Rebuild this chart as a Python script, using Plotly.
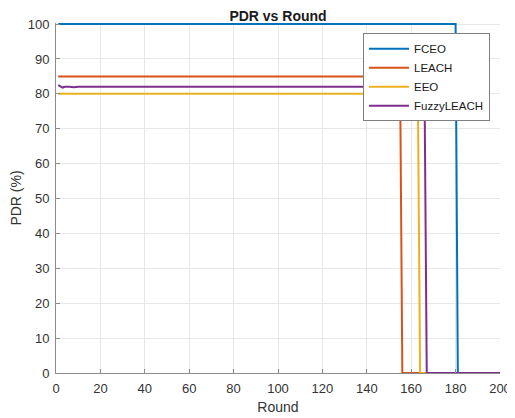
import plotly.graph_objects as go

# PDR readings per round (break points)
fceo_round = [1, 180, 181, 200]
fceo_pdr = [100, 100, 0, 0]

leach_round = [1, 155, 156, 200]
leach_pdr = [85, 85, 0, 0]

eeo_round = [1, 163, 164, 200]
eeo_pdr = [80, 80, 0, 0]

fuzzy_round = [1, 2, 3, 4, 5, 6, 8, 10, 166, 167, 200]
fuzzy_pdr = [82.5, 82.1, 81.8, 82.0, 81.9, 82.0, 81.9, 82.0, 82.0, 0, 0]

x_ticks = [0, 20, 40, 60, 80, 100, 120, 140, 160, 180, 200]
y_ticks = [0, 10, 20, 30, 40, 50, 60, 70, 80, 90, 100]

fig = go.Figure()

series = [
    ("FCEO", fceo_round, fceo_pdr, "#0072BD"),
    ("LEACH", leach_round, leach_pdr, "#D95319"),
    ("EEO", eeo_round, eeo_pdr, "#EDB120"),
    ("FuzzyLEACH", fuzzy_round, fuzzy_pdr, "#7E2F8E"),
]
for nome, x, y, cor in series:
    fig.add_trace(go.Scatter(
        x=x, y=y, name=nome, mode="lines",
        line=dict(color=cor, width=2),
    ))

eixo = dict(
    showline=True, linecolor="#8c8c8c", linewidth=1,
    showgrid=True, gridcolor="#e8e8e8", gridwidth=1,
    ticks="inside", ticklen=4, tickcolor="#8c8c8c",
    zeroline=False, mirror=False, automargin=False,
    ticklabelstandoff=3,
    tickfont=dict(family="Liberation Sans, Arial", size=13, color="#333333"),
)

# a pagina html tem 8px de margem no body, por isso o tamanho e 507x410
fig.update_layout(
    width=507, height=410,
    margin=dict(l=48, r=15, t=15, b=45),
    paper_bgcolor="white", plot_bgcolor="white",
    title=dict(text="<b>PDR vs Round</b>", xref="paper", x=0.5, xanchor="center",
               yref="container", y=1 - 8 / 410, yanchor="middle",
               font=dict(family="Liberation Sans, Arial", size=14, color="#1a1a1a")),
    xaxis=dict(eixo, range=[0, 200], tickvals=x_ticks,
               title=dict(text="Round", standoff=7,
                          font=dict(family="Liberation Sans, Arial", size=14, color="#333333"))),
    yaxis=dict(eixo, range=[0, 100.3], tickvals=y_ticks,
               title=dict(text="PDR (%)", standoff=2,
                          font=dict(family="Liberation Sans, Arial", size=14, color="#333333"))),
    legend=dict(x=0.6914, y=0.971, xanchor="left", yanchor="top",
                bgcolor="white", bordercolor="#7f7f7f", borderwidth=1,
                font=dict(family="Liberation Sans, Arial", size=11.5, color="#1a1a1a"),
                tracegroupgap=0, itemwidth=40),
    showlegend=True,
)

fig.write_html("out.html")
